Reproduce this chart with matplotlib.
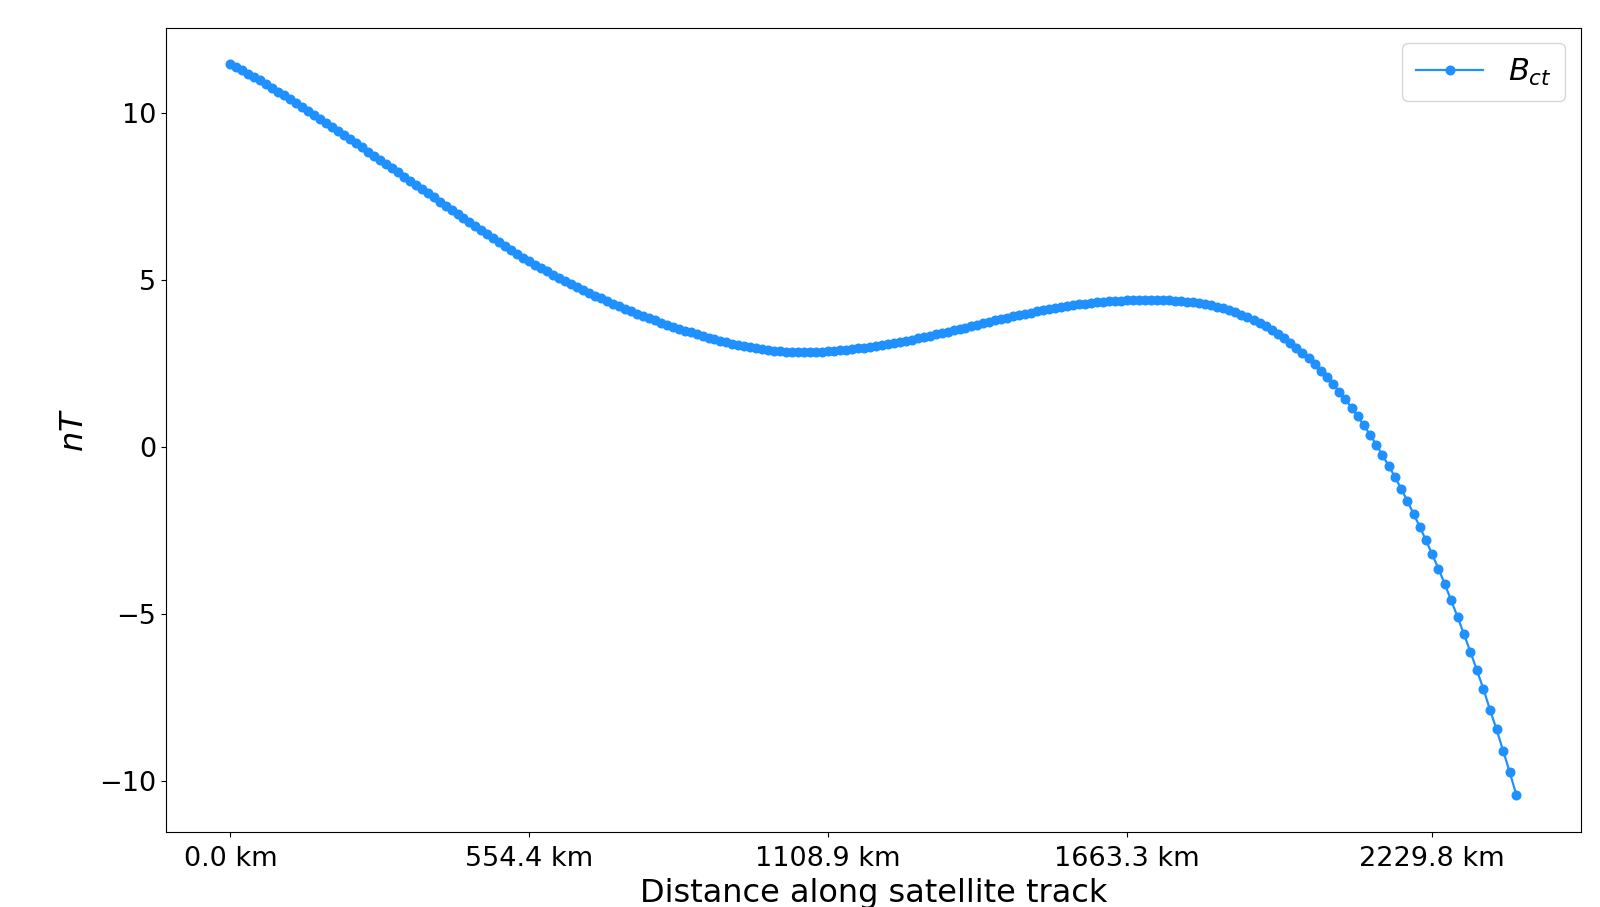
import matplotlib
matplotlib.use('Agg')
import matplotlib.pyplot as plt

# along-track distance of each sample (km)
dist = [
    0.0, 11.1, 22.2, 33.3, 44.4, 55.4, 66.5, 77.6, 88.7, 99.8,
    110.9, 122.0, 133.1, 144.2, 155.2, 166.3, 177.4, 188.5, 199.6, 210.7,
    221.8, 232.9, 244.0, 255.0, 266.1, 277.2, 288.3, 299.4, 310.5, 321.6,
    332.7, 343.7, 354.8, 365.9, 377.0, 388.1, 399.2, 410.3, 421.4, 432.5,
    443.5, 454.6, 465.7, 476.8, 487.9, 499.0, 510.1, 521.2, 532.3, 543.3,
    554.4, 565.5, 576.6, 587.7, 598.8, 609.9, 621.0, 632.1, 643.1, 654.2,
    665.3, 676.4, 687.5, 698.6, 709.7, 720.8, 731.9, 742.9, 754.0, 765.1,
    776.2, 787.3, 798.4, 809.5, 820.6, 831.7, 842.7, 853.8, 864.9, 876.0,
    887.1, 898.2, 909.3, 920.4, 931.5, 942.5, 953.6, 964.7, 975.8, 986.9,
    998.0, 1009.1, 1020.2, 1031.2, 1042.3, 1053.4, 1064.5, 1075.6, 1086.7, 1097.8,
    1108.9, 1120.0, 1131.0, 1142.1, 1153.2, 1164.3, 1175.4, 1186.5, 1197.6, 1208.7,
    1219.8, 1230.8, 1241.9, 1253.0, 1264.1, 1275.2, 1286.3, 1297.4, 1308.5, 1319.6,
    1330.6, 1341.7, 1352.8, 1363.9, 1375.0, 1386.1, 1397.2, 1408.3, 1419.4, 1430.4,
    1441.5, 1452.6, 1463.7, 1474.8, 1485.9, 1497.0, 1508.1, 1519.1, 1530.2, 1541.3,
    1552.4, 1563.5, 1574.6, 1585.7, 1596.8, 1607.9, 1618.9, 1630.0, 1641.1, 1652.2,
    1663.3, 1674.4, 1685.5, 1696.6, 1707.7, 1718.9, 1730.0, 1741.2, 1752.3, 1763.5,
    1774.7, 1785.9, 1797.1, 1808.3, 1819.5, 1830.7, 1842.0, 1853.2, 1864.5, 1875.7,
    1887.0, 1898.3, 1909.6, 1920.9, 1932.2, 1943.6, 1954.9, 1966.2, 1977.6, 1988.9,
    2000.3, 2011.7, 2023.1, 2034.5, 2045.9, 2057.3, 2068.8, 2080.2, 2091.7, 2103.1,
    2114.6, 2126.1, 2137.5, 2149.0, 2160.6, 2172.1, 2183.6, 2195.1, 2206.7, 2218.2,
    2229.8, 2241.4, 2253.1, 2264.9, 2276.8, 2288.7, 2300.7, 2312.7, 2324.8, 2336.9,
    2349.1, 2361.3, 2373.6, 2385.9,
]

# cross-track field component (nT)
b_ct = [
    11.46, 11.37, 11.27, 11.17, 11.07, 10.97, 10.86, 10.75, 10.64, 10.53,
    10.42, 10.31, 10.19, 10.07, 9.95, 9.83, 9.71, 9.59, 9.47, 9.34,
    9.22, 9.09, 8.97, 8.84, 8.72, 8.59, 8.47, 8.34, 8.22, 8.09,
    7.97, 7.84, 7.72, 7.59, 7.47, 7.34, 7.22, 7.09, 6.97, 6.84,
    6.72, 6.60, 6.48, 6.36, 6.24, 6.12, 6.00, 5.89, 5.77, 5.66,
    5.55, 5.45, 5.35, 5.25, 5.15, 5.06, 4.96, 4.87, 4.79, 4.70,
    4.62, 4.53, 4.45, 4.37, 4.29, 4.21, 4.14, 4.06, 3.99, 3.92,
    3.85, 3.79, 3.72, 3.66, 3.60, 3.54, 3.48, 3.43, 3.37, 3.32,
    3.27, 3.22, 3.18, 3.13, 3.09, 3.05, 3.01, 2.98, 2.95, 2.92,
    2.90, 2.88, 2.86, 2.85, 2.84, 2.84, 2.83,
    2.84, 2.84, 2.85, 2.86, 2.87, 2.89, 2.91, 2.93, 2.95, 2.97,
    3.00, 3.02, 3.05, 3.08, 3.11, 3.14, 3.18, 3.21, 3.25, 3.29,
    3.33, 3.37, 3.41, 3.45, 3.49, 3.53, 3.57, 3.62, 3.66, 3.70,
    3.75, 3.79, 3.83, 3.87, 3.91, 3.95, 3.99, 4.02, 4.06, 4.09,
    4.12, 4.16, 4.19, 4.21, 4.24, 4.27, 4.29, 4.31, 4.33, 4.34,
    4.36, 4.37, 4.38, 4.39, 4.40, 4.40, 4.40,
    4.40, 4.40, 4.40, 4.39, 4.38, 4.37, 4.35, 4.33, 4.31, 4.27,
    4.24, 4.20, 4.15, 4.09, 4.03, 3.96, 3.89, 3.80, 3.71, 3.61,
    3.50, 3.38, 3.25, 3.12, 2.97, 2.81, 2.65, 2.47, 2.28, 2.08,
    1.87, 1.65, 1.42, 1.17, 0.91, 0.64, 0.36, 0.06, -0.25, -0.57,
    -0.90, -1.25, -1.62, -2.00, -2.39, -2.80, -3.22,
    -3.65, -4.11, -4.60, -5.09, -5.61, -6.14, -6.69, -7.25, -7.87, -8.46,
    -9.10, -9.74, -10.43,
]

tick_km = [0.0, 554.4, 1108.9, 1663.3, 2229.8]
tick_labels = ['0.0 km', '554.4 km', '1108.9 km', '1663.3 km', '2229.8 km']

fig = plt.figure(figsize=(16, 9.07), dpi=100)
ax = fig.add_axes([0.1038, 0.0831, 0.8841, 0.8865])

ax.plot(dist, b_ct, '-o', color='dodgerblue', lw=1.6, ms=6.2, label='$B_{ct}$')

ax.set_xticks(tick_km)
ax.set_xticklabels(tick_labels)
ax.tick_params(labelsize=19.5)
ax.tick_params(axis='x', pad=7)
ax.set_xlabel('Distance along satellite track', fontsize=23, labelpad=4)
ax.set_ylabel('$nT$', fontsize=23, labelpad=7)
ax.legend(loc='upper right', fontsize=22, handlelength=2.2, borderpad=0.45)

fig.savefig('out.png', dpi=100)
